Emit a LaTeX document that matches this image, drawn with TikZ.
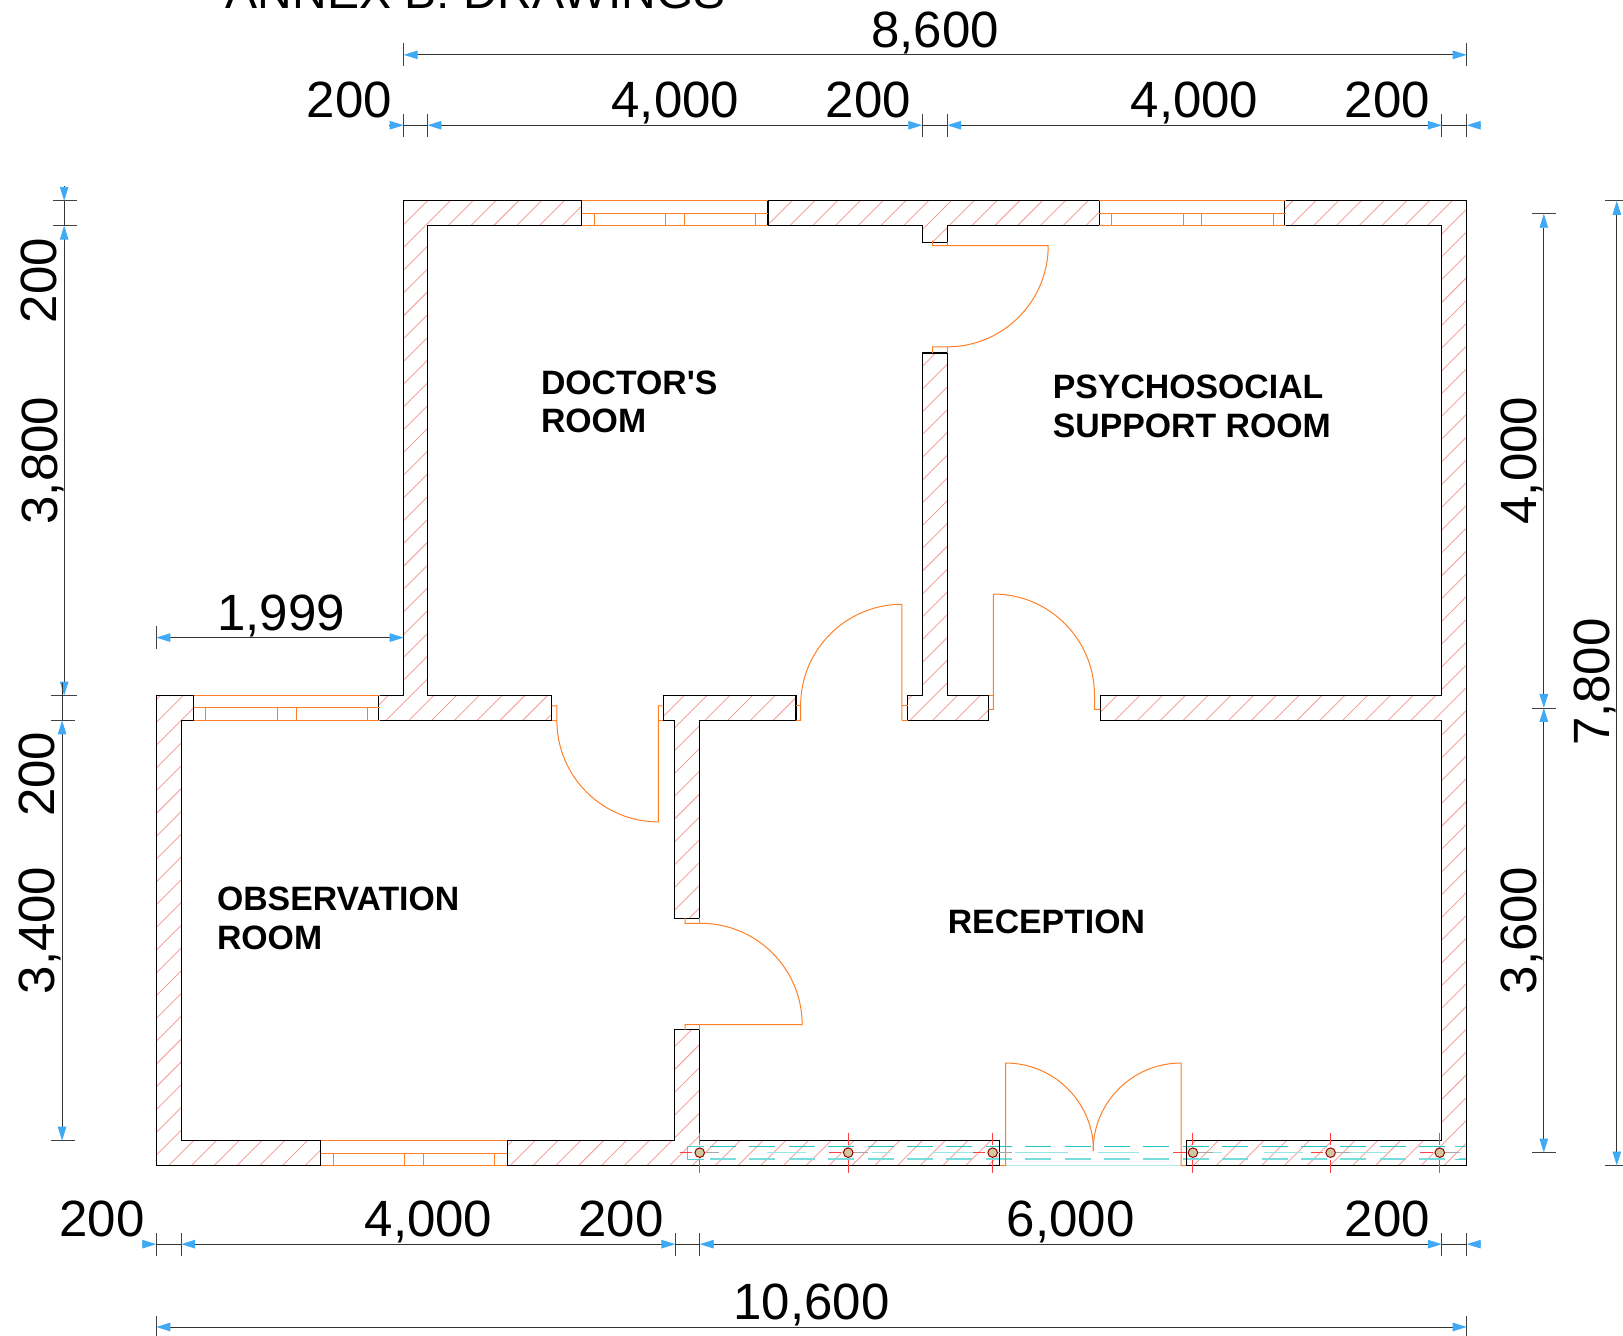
\documentclass[tikz,border=0pt]{standalone}
\usepackage{xcolor}
\usepackage{fontspec}
\setmainfont{Liberation Sans}
\usetikzlibrary{arrows.meta}

\definecolor{dimblue}{HTML}{3FA9F5}
\definecolor{hatchred}{HTML}{F5A3A0}
\definecolor{doororange}{HTML}{FF7F27}
\definecolor{glasscyan}{HTML}{1CC4C4}
\definecolor{columntan}{HTML}{CFC9A0}

\tikzset{
  wallline/.style={draw=black, line width=1.1pt, line join=miter},
  hatchline/.style={draw=hatchred, line width=0.9pt},
  doorline/.style={draw=doororange, line width=1pt},
  dimline/.style={draw=black!80, line width=0.9pt, >={Triangle[length=14pt,width=8.5pt,color=dimblue]}},
  dimtick/.style={draw=black!75, line width=0.9pt},
  dimtext/.style={font=\fontsize{51}{51}\selectfont, anchor=base, inner sep=0pt},
  roomtext/.style={font=\fontsize{33.8}{38.6}\selectfont\bfseries, anchor=north west, align=left, inner sep=0pt},
}

% Outlines of the seven wall pieces
\newcommand{\wallpath}{
  (562,194) -- (390,194) -- (390,672) -- (366,672) -- (366,696) -- (533,696) -- (533,672) -- (413,672) -- (413,218) -- (562,218) -- cycle
  (742,194) -- (1062,194) -- (1062,218) -- (915,218) -- (915,234) -- (891,234) -- (891,218) -- (742,218) -- cycle
  (1241,194) -- (1417,194) -- (1417,1126) -- (1146,1126) -- (1146,1102) -- (1393,1102) -- (1393,696) -- (1063,696) -- (1063,672) -- (1393,672) -- (1393,218) -- (1241,218) -- cycle
  (891,341) -- (915,341) -- (915,672) -- (955,672) -- (955,696) -- (877,696) -- (877,672) -- (891,672) -- cycle
  (641,672) -- (769,672) -- (769,696) -- (676,696) -- (676,887) -- (652,887) -- (652,696) -- (641,696) -- cycle
  (151,672) -- (187,672) -- (187,696) -- (175,696) -- (175,1102) -- (310,1102) -- (310,1126) -- (151,1126) -- cycle
  (490,1102) -- (652,1102) -- (652,995) -- (676,995) -- (676,1102) -- (966,1102) -- (966,1126) -- (490,1126) -- cycle
}

\begin{document}
\begin{tikzpicture}[x=1.0351pt, y=-1.0351pt]
  \clip (0,0) rectangle (1568,1290);

  % Title, cut by the page edge
  \node[font=\fontsize{48}{48}\selectfont, anchor=base, inner sep=0pt] (title) at (459.5,8) {ANNEX B: DRAWINGS};

  % Wall hatching
  \begin{scope}
    \clip \wallpath;
    \foreach \hs in {343,365,...,2560}
      \draw[hatchline] (\hs,0) -- (\hs-1300,1300);
  \end{scope}

  % Glazing along the bottom
  \draw[glasscyan, line width=1pt, dash pattern=on 26pt off 13.4pt] (686,1107.5) -- (1417,1107.5);
  \draw[glasscyan!60, line width=1.5pt, dash pattern=on 26pt off 13.4pt] (686,1119.7) -- (1417,1119.7);
  \draw[glasscyan!80, line width=0.9pt] (680,1107.5) -- (664.4,1107.5) -- (664.4,1119.7) -- (680,1119.7);
  \draw[glasscyan!80, line width=0.9pt] (1406,1107.5) -- (1417,1107.5) -- (1417,1119.7) -- (1406,1119.7);
  \foreach \ga/\gb in {741/779,842/860,900/951,981/1032,1061/1100,1161/1181,1221/1259,1294/1340,1403/1411}
    \draw[glasscyan!45, line width=1.2pt] (\ga,1113.6) -- (\gb,1113.6);
  \draw[glasscyan!35, line width=1.2pt] (966,1125.7) -- (1146,1125.7);

  % Walls
  \draw[wallline] \wallpath;

  % Windows
  \foreach \wx/\wy in {562/194,1062/194,187/672,310/1102} {
    \draw[doorline] (\wx,\wy) -- ++(180,0);
    \draw[doorline] (\wx,\wy+12) -- ++(180,0);
    \draw[doorline] (\wx,\wy+24) -- ++(180,0);
    \foreach \wo in {12,81,99,168}
      \draw[doorline] (\wx+\wo,\wy+12) -- (\wx+\wo,\wy+24);
  }

  % Doors
  \draw[doorline] (901,232.5) -- (901,237.4) -- (1012.7,237.4) arc[start angle=0, end angle=90, radius=97.7] -- (901,335.1) -- (901,341);
  \draw[doorline] (915,237.4) -- (915,234);
  \draw[doorline] (915,335.1) -- (915,341);

  \draw[doorline] (871.4,696) -- (871.4,583.8) arc[start angle=-90, end angle=-180, radius=97.9] -- (773.5,696) -- (769,696);
  \draw[doorline] (769,681.7) -- (773.5,681.7);
  \draw[doorline] (871.4,681.7) -- (877,681.7);
  \draw[doorline] (871.4,696) -- (877,696);

  \draw[doorline] (955,685.3) -- (959.7,685.3) -- (959.7,573.9) arc[start angle=-90, end angle=0, radius=97.7] -- (1057.4,685.3) -- (1063,685.3);
  \draw[doorline] (955,671.6) -- (959.7,671.6);

  \draw[doorline] (533,682) -- (538,682) -- (538,696) arc[start angle=180, end angle=90, radius=98] -- (636,682) -- (641,682);
  \draw[doorline] (533,696) -- (538,696);
  \draw[doorline] (636,696) -- (641,696);

  \draw[doorline] (662,887) -- (662,892) -- (677,892) arc[start angle=-90, end angle=0, radius=98] -- (662,990) -- (662,995);
  \draw[doorline] (676,887) -- (676,892);
  \draw[doorline] (676,990) -- (676,995);

  \draw[doorline] (966,1126) -- (971.5,1126) -- (971.5,1027) arc[start angle=-90, end angle=0, radius=85];
  \draw[doorline] (1146,1126) -- (1141,1126) -- (1141,1027) arc[start angle=-90, end angle=-180, radius=85];

  % Columns
  \foreach \cx in {676,819.5,959,1152.5,1285.5,1391} {
    \draw[red!75, line width=0.9pt] (\cx-19,1113.6) -- (\cx-7,1113.6);
    \draw[black!35, line width=0.9pt] (\cx+5,1113.6) -- (\cx+19,1113.6);
    \draw[red!75, line width=0.9pt] (\cx,1094.5) -- (\cx,1106);
    \draw[red!75, line width=0.9pt] (\cx,1121) -- (\cx,1133);
    \draw[fill=columntan, draw=red!60!black, line width=1pt] (\cx,1113.6) circle (4.6);
  }

  % Room names
  \node[roomtext] (doctor) at (522.5,358) {DOCTOR\textquotesingle S\\ROOM};
  \node[roomtext] (psycho) at (1017,362) {PSYCHOSOCIAL\\SUPPORT ROOM};
  \node[roomtext] (observation) at (209.5,857) {OBSERVATION\\ROOM};
  \node[roomtext] (reception) at (915.5,879) {RECEPTION};

  % Top dimensions
  \foreach \tx in {390,1417}
    \draw[dimtick] (\tx,42) -- (\tx,64);
  \draw[dimline,<->] (390,53) -- (1417,53);
  \node[dimtext] (topall) at (903.5,46) {8,600};
  \foreach \tx in {390,413,891,915,1393,1417}
    \draw[dimtick] (\tx,110) -- (\tx,132);
  \draw[dimline,->] (376,121) -- (390,121);
  \draw[dimline] (390,121) -- (413,121);
  \draw[dimline,<->] (413,121) -- (891,121);
  \draw[dimline] (891,121) -- (915,121);
  \draw[dimline,<->] (915,121) -- (1393,121);
  \draw[dimline] (1393,121) -- (1417,121);
  \draw[dimline,->] (1431,121) -- (1417,121);
  \node[dimtext] (topa) at (337.5,114) {200};
  \node[dimtext] (topb) at (652.5,114) {4,000};
  \node[dimtext] (topc) at (839,114) {200};
  \node[dimtext] (topd) at (1154,114) {4,000};
  \node[dimtext] (tope) at (1340.5,114) {200};

  % Left dimensions
  \foreach \ty in {194,218,672}
    \draw[dimtick] (51,\ty) -- (74,\ty);
  \draw[dimline,->] (62,180) -- (62,194);
  \draw[dimline] (62,194) -- (62,218);
  \draw[dimline,<->] (62,218) -- (62,672);
  \node[dimtext, rotate=90] (lefta) at (55,271) {200};
  \node[dimtext, rotate=90] (leftb) at (55.5,445) {3,800};
  \foreach \ty in {672,696,1102}
    \draw[dimtick] (49,\ty) -- (72,\ty);
  \draw[dimline] (60,660) -- (60,696);
  \draw[dimline,<->] (60,696) -- (60,1102);
  \node[dimtext, rotate=90] (leftc) at (53,748) {200};
  \node[dimtext, rotate=90] (leftd) at (53,899) {3,400};

  \draw[dimtick] (151,605) -- (151,627);
  \draw[dimline,<->] (151,616) -- (390,616);
  \node[dimtext] (offset) at (271.5,609) {1,999};

  % Right dimensions
  \foreach \ty in {206.5,684,1113.5}
    \draw[dimtick] (1480,\ty) -- (1503,\ty);
  \draw[dimline,<->] (1491.5,206.5) -- (1491.5,684);
  \draw[dimline,<->] (1491.5,684) -- (1491.5,1113.5);
  \node[dimtext, rotate=90] (righta) at (1484,445) {4,000};
  \node[dimtext, rotate=90] (rightb) at (1484,899) {3,600};
  \foreach \ty in {194,1126}
    \draw[dimtick] (1551,\ty) -- (1575,\ty);
  \draw[dimline,<->] (1562,194) -- (1562,1126);
  \node[dimtext, rotate=90] (rightall) at (1555,659) {7,800};

  % Bottom dimensions
  \foreach \tx in {151,175,652.5,676,1393,1417}
    \draw[dimtick] (\tx,1191) -- (\tx,1213);
  \draw[dimline,->] (137,1202) -- (151,1202);
  \draw[dimline] (151,1202) -- (175,1202);
  \draw[dimline,<->] (175,1202) -- (652.5,1202);
  \draw[dimline] (652.5,1202) -- (676,1202);
  \draw[dimline,<->] (676,1202) -- (1393,1202);
  \draw[dimline] (1393,1202) -- (1417,1202);
  \draw[dimline,->] (1431,1202) -- (1417,1202);
  \node[dimtext] (bota) at (98.5,1195) {200};
  \node[dimtext] (botb) at (414,1195) {4,000};
  \node[dimtext] (botc) at (600,1195) {200};
  \node[dimtext] (botd) at (1034.5,1195) {6,000};
  \node[dimtext] (bote) at (1340.5,1195) {200};
  \foreach \tx in {151,1417}
    \draw[dimtick] (\tx,1271) -- (\tx,1293);
  \draw[dimline,<->] (151,1282) -- (1417,1282);
  \node[dimtext] (botall) at (784,1275) {10,600};
\end{tikzpicture}
\end{document}
